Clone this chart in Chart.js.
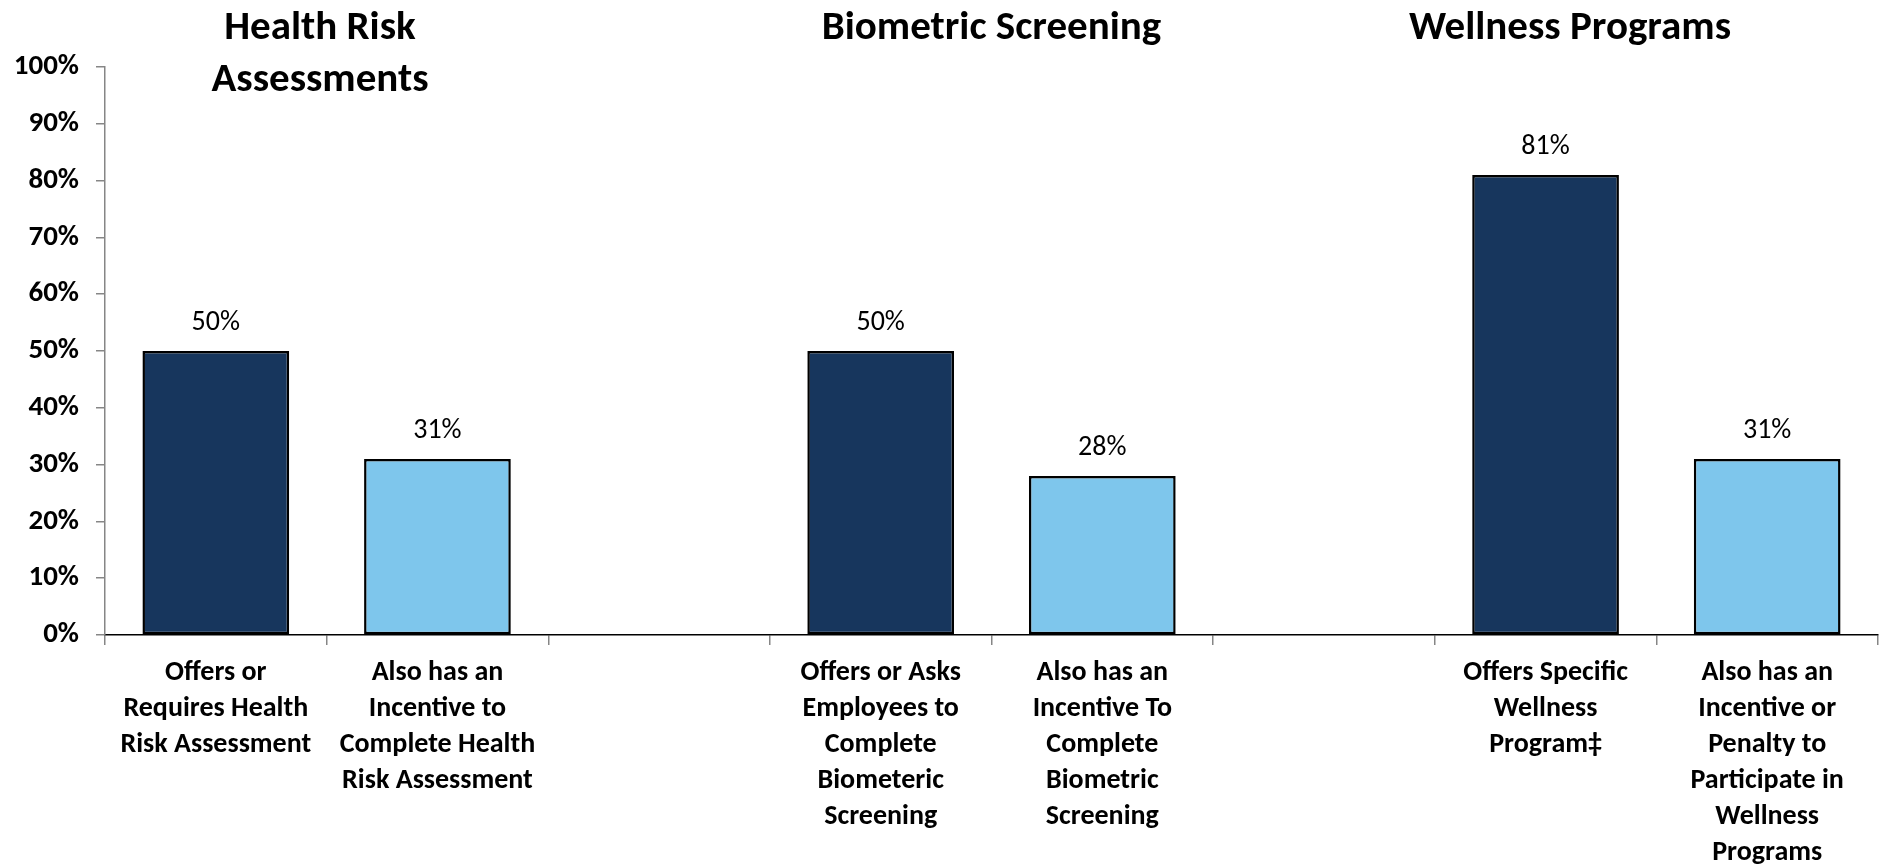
<!DOCTYPE html>
<html>
<head>
<meta charset="utf-8">
<title>Health risk assessments, biometric screening and wellness programs</title>
<script src="https://cdn.jsdelivr.net/npm/chart.js@4.4.1/dist/chart.umd.min.js"></script>
<style>
  html, body { margin: 0; padding: 0; background: #fff; }
  #wrap { width: 1881px; height: 866px; }
</style>
</head>
<body>
<div id="wrap"><canvas id="myChart"></canvas></div>
<script>
// bars along the x axis; the empty slots keep the three groups apart
const categories = [
  ["Offers or", "Requires Health", "Risk Assessment"],
  ["Also has an", "Incentive to", "Complete Health", "Risk Assessment"],
  "",
  ["Offers or Asks", "Employees to", "Complete", "Biometeric", "Screening"],
  ["Also has an", "Incentive To", "Complete", "Biometric", "Screening"],
  "",
  ["Offers Specific", "Wellness", "Program\u2021"],
  ["Also has an", "Incentive or", "Penalty to", "Participate in", "Wellness", "Programs"]
];

// percent of firms, null = spacer slot
const percents = [50, 31, null, 50, 28, null, 81, 31];

// which bars are the "also has an incentive" ones (light blue)
const isIncentive = [false, true, false, false, true, false, false, true];

const groupTitles = [["Health Risk", "Assessments"], ["Biometric Screening"], ["Wellness Programs"]];

const yTickMax = 100;
const yTickStep = 10;

// where each group title sits, in category slots
const titleSpots = [0.47, 3.5, 6.11];

const FONT = "Carlito, Calibri, Lato, sans-serif";
const DARK = "#17365D";
const LIGHT = "#7EC6EC";

// group headings over the bars
const groupHeadings = {
  id: "groupHeadings",
  afterDraw(chart) {
    const ctx = chart.ctx;
    const x = chart.scales.x;
    const p0 = x.getPixelForValue(0);
    const p1 = x.getPixelForValue(1);
    ctx.save();
    ctx.font = "bold 41px " + FONT;
    ctx.fillStyle = "#000";
    ctx.textAlign = "center";
    ctx.textBaseline = "middle";
    groupTitles.forEach(function (lines, i) {
      const cx = p0 + (p1 - p0) * titleSpots[i];
      lines.forEach(function (line, j) {
        ctx.fillText(line, cx, 29 + j * 52);
      });
    });
    ctx.restore();
  }
};

// value over each bar
const barLabels = {
  id: "barLabels",
  afterDatasetsDraw(chart) {
    const ctx = chart.ctx;
    const meta = chart.getDatasetMeta(0);
    ctx.save();
    ctx.font = "28px " + FONT;
    ctx.fillStyle = "#000";
    ctx.textAlign = "center";
    ctx.textBaseline = "middle";
    meta.data.forEach(function (bar, i) {
      if (percents[i] == null) return;
      ctx.fillText(percents[i] + "%", bar.x, bar.y - 28);
    });
    ctx.restore();
  }
};

const ctx = document.getElementById("myChart").getContext("2d");
const chart = new Chart(ctx, {
  type: "bar",
  data: {
    labels: categories,
    datasets: [{
      data: percents,
      backgroundColor: isIncentive.map(function (b) { return b ? LIGHT : DARK; }),
      borderColor: "#000",
      borderWidth: 2.5,
      borderSkipped: false,
      barPercentage: 0.662,
      categoryPercentage: 1
    }]
  },
  options: {
    responsive: true,
    maintainAspectRatio: false,
    animation: false,
    layout: { padding: { top: 67, right: 3, left: 0, bottom: 0 } },
    plugins: {
      legend: { display: false },
      tooltip: { enabled: false }
    },
    scales: {
      x: {
        grid: { drawOnChartArea: false, color: "#868686", lineWidth: 1.5, tickLength: 10 },
        border: { color: "#000", width: 1.5 },
        ticks: {
          autoSkip: false,
          maxRotation: 0,
          minRotation: 0,
          padding: 10,
          color: "#000",
          font: { family: FONT, size: 28, weight: "bold", lineHeight: 36 / 28 }
        },
        afterFit: function (scale) { scale.height = 231; }
      },
      y: {
        min: 0,
        max: yTickMax,
        grid: { drawOnChartArea: false, color: "#868686", lineWidth: 1.5, tickLength: 9 },
        border: { color: "#868686", width: 1.5 },
        ticks: {
          stepSize: yTickStep,
          padding: 17,
          color: "#000",
          font: { family: FONT, size: 29, weight: "bold" },
          callback: function (v) { return v + "%"; }
        },
        afterFit: function (scale) { scale.width = 105; }
      }
    }
  },
  plugins: [groupHeadings, barLabels]
});
</script>
</body>
</html>
